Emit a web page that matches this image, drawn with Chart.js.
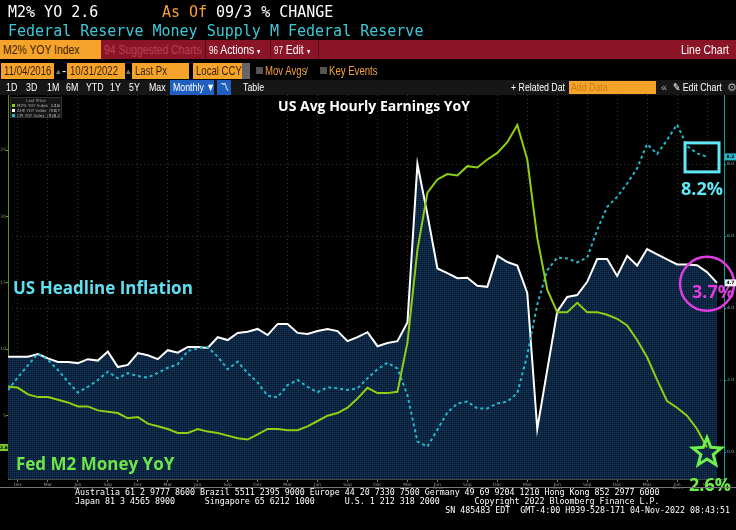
<!DOCTYPE html>
<html>
<head>
<meta charset="utf-8">
<script src="https://cdn.jsdelivr.net/npm/chart.js@4.4.0/dist/chart.umd.min.js"></script>
<style>
html, body { margin: 0; padding: 0; background: #000; }
#wrap { position: relative; width: 736px; height: 530px; background: #000; overflow: hidden;
  font-family: "Liberation Sans", Arial, sans-serif; }
#wrap canvas { position: absolute; left: 0; top: 0; }
.abs { position: absolute; white-space: pre; }
.mono { font-family: "DejaVu Sans Mono", monospace; font-size: 15px; line-height: 18px; }
.bar { position: absolute; left: 0; width: 736px; }
.tb { position: absolute; top: 0; font-size: 13px; line-height: 19px; color: #fff; white-space: pre; }
.box { position: absolute; top: 1px; height: 16px; line-height: 16px; background: #f6a32c; color: #3a2200;
  font-size: 12px; padding-left: 3px; box-sizing: border-box; white-space: pre; overflow: hidden; }
.chk { position: absolute; top: 5px; width: 7px; height: 7px; background: #555; }
.r5 { position: absolute; top: 0; font-size: 11px; line-height: 15px; color: #fff; white-space: pre; }
.n { display: inline-block; transform: scaleX(0.8); transform-origin: 0 50%; }
.foot { font-family: "DejaVu Sans Mono", monospace; font-size: 8.3px; line-height: 9px; color: #fff; }
</style>
</head>
<body>
<div id="wrap">
<canvas id="chart" width="736" height="530"></canvas>

<div class="abs mono" style="left:8px;top:3px;color:#fff">M2% YO 2.6</div>
<div class="abs mono" style="left:162px;top:3px;color:#f4a13a">As Of</div>
<div class="abs mono" style="left:216px;top:3px;color:#fff">09/3 % CHANGE</div>
<div class="abs mono" style="left:8px;top:22px;color:#3dc8d8">Federal Reserve Money Supply M Federal Reserve</div>

<div class="bar" style="top:40px;height:19px;background:#8b1526;">
  <div class="tb" style="left:0;width:101px;background:#f6a32c;color:#3a2200;padding-left:3px;box-sizing:border-box;"><span class="n">M2% YOY Index</span></div>
  <div class="tb" style="left:104px;color:#b5424f;"><span class="n">94 Suggested Charts</span></div>
  <div class="tb" style="left:205px;width:1px;height:19px;background:#5a0c18;"></div>
  <div class="tb" style="left:209px;"><span class="n"><span style="font-size:10px">96</span> Actions <span style="font-size:8px">▾</span></span></div>
  <div class="tb" style="left:270px;width:1px;height:19px;background:#5a0c18;"></div>
  <div class="tb" style="left:274px;"><span class="n"><span style="font-size:10px">97</span> Edit <span style="font-size:8px">▾</span></span></div>
  <div class="tb" style="left:318px;width:1px;height:19px;background:#5a0c18;"></div>
  <div class="tb" style="left:681px;"><span class="n">Line Chart</span></div>
</div>

<div class="bar" style="top:62px;height:18px;">
  <div class="box" style="left:1px;width:53px;"><span class="n">11/04/2016</span></div>
  <div class="tb" style="left:56px;top:0;line-height:18px;color:#777;font-size:9px">▴</div>
  <div class="tb" style="left:62px;line-height:18px;">-</div>
  <div class="box" style="left:67px;width:58px;"><span class="n">10/31/2022</span></div>
  <div class="tb" style="left:126px;top:0;line-height:18px;color:#777;font-size:9px">▴</div>
  <div class="box" style="left:132px;width:57px;"><span class="n">Last Px</span></div>
  <div class="box" style="left:193px;width:56px;"><span class="n">Local CCY</span></div>
  <div class="tb" style="left:242px;top:1px;width:8px;height:16px;background:#666;"></div>
  <div class="chk" style="left:256px;"></div>
  <div class="tb" style="left:265px;line-height:18px;color:#f4a13a;font-size:12px"><span class="n">Mov Avgs</span></div>
  <div class="tb" style="left:305px;line-height:18px;color:#999;font-size:11px">/</div>
  <div class="chk" style="left:320px;"></div>
  <div class="tb" style="left:329px;line-height:18px;color:#f4a13a;font-size:12px"><span class="n">Key Events</span></div>
</div>

<div class="bar" style="top:80px;height:15px;background:#161616;">
  <div class="r5" style="left:6px;"><span class="n">1D</span></div>
  <div class="r5" style="left:26px;"><span class="n">3D</span></div>
  <div class="r5" style="left:47px;"><span class="n">1M</span></div>
  <div class="r5" style="left:66px;"><span class="n">6M</span></div>
  <div class="r5" style="left:86px;"><span class="n">YTD</span></div>
  <div class="r5" style="left:110px;"><span class="n">1Y</span></div>
  <div class="r5" style="left:129px;"><span class="n">5Y</span></div>
  <div class="r5" style="left:149px;"><span class="n">Max</span></div>
  <div class="r5" style="left:170px;width:44px;height:15px;background:#1f5fbf;padding-left:3px;box-sizing:border-box;"><span class="n">Monthly ▼</span></div>
  <div class="r5" style="left:217px;width:14px;height:15px;background:#1f5fbf;text-align:center;font-size:9px;">〽</div>
  <div class="r5" style="left:243px;"><span class="n">Table</span></div>
  <div class="r5" style="left:511px;"><span class="n">+ Related Dat</span></div>
  <div class="r5" style="left:569px;top:1px;width:87px;height:13px;line-height:13px;background:#f6a32c;color:#c77d1a;padding-left:2px;box-sizing:border-box;"><span class="n">Add Data</span></div>
  <div class="r5" style="left:661px;color:#aaa;">«</div>
  <div class="r5" style="left:673px;"><span class="n">✎ Edit Chart</span></div>
  <div class="r5" style="left:727px;color:#aaa;">⚙</div>
</div>

<div class="abs" style="left:0;top:487px;width:736px;height:1px;background:#777;"></div>
<div class="abs foot" style="left:75px;top:488px;">Australia 61 2 9777 8600 Brazil 5511 2395 9000 Europe 44 20 7330 7500 Germany 49 69 9204 1210 Hong Kong 852 2977 6000</div>
<div class="abs foot" style="left:75px;top:497px;">Japan 81 3 4565 8900      Singapore 65 6212 1000      U.S. 1 212 318 2000       Copyright 2022 Bloomberg Finance L.P.</div>
<div class="abs foot" style="right:6px;top:506px;">SN 485483 EDT  GMT-4:00 H939-528-171 04-Nov-2022 08:43:51</div>
</div>

<script>
// monthly points, Nov 2016 .. Oct 2022
var months = [
  'Nov 2016','Dec 2016',
  'Jan 2017','Feb 2017','Mar 2017','Apr 2017','May 2017','Jun 2017','Jul 2017','Aug 2017','Sep 2017','Oct 2017','Nov 2017','Dec 2017',
  'Jan 2018','Feb 2018','Mar 2018','Apr 2018','May 2018','Jun 2018','Jul 2018','Aug 2018','Sep 2018','Oct 2018','Nov 2018','Dec 2018',
  'Jan 2019','Feb 2019','Mar 2019','Apr 2019','May 2019','Jun 2019','Jul 2019','Aug 2019','Sep 2019','Oct 2019','Nov 2019','Dec 2019',
  'Jan 2020','Feb 2020','Mar 2020','Apr 2020','May 2020','Jun 2020','Jul 2020','Aug 2020','Sep 2020','Oct 2020','Nov 2020','Dec 2020',
  'Jan 2021','Feb 2021','Mar 2021','Apr 2021','May 2021','Jun 2021','Jul 2021','Aug 2021','Sep 2021','Oct 2021','Nov 2021','Dec 2021',
  'Jan 2022','Feb 2022','Mar 2022','Apr 2022','May 2022','Jun 2022','Jul 2022','Aug 2022','Sep 2022','Oct 2022'
];

// M2% YOY Index (left axis)
var m2Yoy = [
  7.2, 7.1,
  6.6, 6.4, 6.4, 6.2, 6.0, 5.7, 5.7, 5.4, 5.3, 5.2, 4.8, 4.9,
  4.4, 4.2, 4.0, 3.7, 3.7, 4.0, 3.8, 3.7, 3.5, 3.3, 3.2, 3.6,
  4.0, 4.0, 3.9, 3.9, 4.2, 4.6, 5.0, 5.2, 5.6, 6.3, 7.1, 6.7,
  6.7, 6.8, 10.5, 17.5, 21.8, 22.8, 23.2, 23.1, 23.8, 23.7, 24.3, 24.8,
  25.6, 26.9, 24.3, 18.4, 14.5, 12.8, 12.8, 13.5, 12.8, 12.8, 12.6, 12.3,
  11.8, 10.7, 9.4, 7.7, 6.1, 5.6, 5.0, 4.0, 2.6, null
];

// AHE YOY Index (right axis)
var aheYoy = [
  2.65, 2.65,
  2.65, 2.72, 2.6, 2.5, 2.5, 2.47, 2.58, 2.54, 2.79, 2.36, 2.42, 2.75,
  2.69, 2.58, 2.83, 2.76, 2.92, 2.92, 2.89, 3.19, 3.11, 3.31, 3.34, 3.42,
  3.25, 3.56, 3.56, 3.31, 3.28, 3.36, 3.42, 3.36, 3.08, 3.19, 3.33, 2.94,
  3.03, 3.08, 3.6, 8.0, 6.6, 5.1, 4.97, 4.83, 4.84, 4.62, 4.59, 5.45,
  5.28, 5.18, 4.42, 0.64, 2.28, 3.9, 4.31, 4.36, 4.73, 5.36, 5.36, 4.89,
  5.45, 5.18, 5.64, 5.49, 5.35, 5.21, 5.21, 5.19, 5.0, 4.7
];

// CPI YOY Index (right axis)
var cpiYoy = [
  1.72, 2.08,
  2.41, 2.74, 2.56, 2.28, 1.95, 1.65, 1.81, 2.0, 2.23, 2.05, 2.19, 2.11,
  2.07, 2.2, 2.34, 2.44, 2.81, 2.88, 2.91, 2.65, 2.3, 2.51, 2.19, 1.93,
  1.56, 1.52, 1.86, 2.0, 1.81, 1.66, 1.8, 1.77, 1.72, 1.77, 2.05, 2.3,
  2.48, 2.32, 1.58, 0.29, 0.15, 0.62, 1.1, 1.35, 1.4, 1.21, 1.21, 1.35,
  1.4, 1.63, 2.7, 4.1, 5.05, 5.4, 5.38, 5.27, 5.4, 6.17, 6.81, 7.09,
  7.46, 7.88, 8.56, 8.28, 8.67, 9.1, 8.5, 8.3, 8.2, null
];

var tickMonths = ['Dec', 'Mar', 'Jun', 'Sep'];

Chart.defaults.font.family = '"DejaVu Sans", sans-serif';

function toPoints(arr) {
  return arr.map(function(v, i) { return { x: i, y: v }; });
}

function lastValue(arr) {
  for (var i = arr.length - 1; i >= 0; i--) if (arr[i] !== null) return { i: i, v: arr[i] };
  return null;
}

// dithered navy like the terminal's area fill
function dotPattern() {
  var c = document.createElement('canvas');
  c.width = 2; c.height = 2;
  var g = c.getContext('2d');
  g.fillStyle = '#0a1f38'; g.fillRect(0, 0, 2, 2);
  g.fillStyle = '#183a60'; g.fillRect(0, 0, 1, 1);
  return g.createPattern(c, 'repeat');
}

function drawStar(ctx, cx, cy, ro, ri) {
  ctx.beginPath();
  for (var k = 0; k < 10; k++) {
    var r = k % 2 === 0 ? ro : ri;
    var a = -Math.PI / 2 + k * Math.PI / 5;
    var px = cx + r * Math.cos(a), py = cy + r * Math.sin(a);
    if (k === 0) ctx.moveTo(px, py); else ctx.lineTo(px, py);
  }
  ctx.closePath();
  ctx.stroke();
}

var marks = {
  id: 'marks',
  afterDraw: function(chart) {
    var ctx = chart.ctx, xs = chart.scales.x, yL = chart.scales.yL, yR = chart.scales.yR;
    var area = chart.chartArea;
    var m2Last = lastValue(m2Yoy), aheLast = lastValue(aheYoy), cpiLast = lastValue(cpiYoy);
    ctx.save();

    // legend box
    ctx.fillStyle = '#161616';
    ctx.fillRect(area.left + 2, area.top + 2, 52, 21);
    ctx.strokeStyle = '#333';
    ctx.lineWidth = 1;
    ctx.strokeRect(area.left + 2.5, area.top + 2.5, 51, 20);
    ctx.font = '4px "DejaVu Sans"';
    ctx.textBaseline = 'middle';
    ctx.fillStyle = '#aaa';
    ctx.textAlign = 'center';
    ctx.fillText('Last Price', area.left + 28, area.top + 5.5);
    var rows = [
      ['M2% YOY Index  (L1)', m2Last.v, '#8fcf14'],
      ['AHE YOY Index  (R1)', aheLast.v, '#ffffff'],
      ['CPI YOY Index  (R2)', cpiLast.v, '#22b8cf']
    ];
    rows.forEach(function(r, k) {
      var yy = area.top + 10.5 + k * 5;
      ctx.fillStyle = r[2];
      ctx.fillRect(area.left + 4, yy - 1.5, 3, 3);
      ctx.fillStyle = '#aaa';
      ctx.textAlign = 'left';
      ctx.fillText(r[0], area.left + 9, yy);
      ctx.textAlign = 'right';
      ctx.fillText(r[1].toFixed(1), area.left + 52, yy);
    });

    // title
    ctx.font = 'bold 14px "Open Sans"';
    ctx.fillStyle = '#ffffff';
    ctx.textAlign = 'center';
    ctx.fillText('US Avg Hourly Earnings YoY', 374, area.top + 12);

    // side notes
    ctx.textAlign = 'left';
    ctx.font = 'bold 17px "Open Sans"';
    ctx.fillStyle = '#5fe0f0';
    ctx.fillText('US Headline Inflation', 13, 289);
    ctx.fillStyle = '#6ee64a';
    ctx.fillText('Fed M2 Money YoY', 16, 465);

    // box around the CPI tail
    var cx = xs.getPixelForValue(cpiLast.i), cy = yR.getPixelForValue(cpiLast.v);
    ctx.strokeStyle = '#5fe8f5';
    ctx.lineWidth = 3;
    ctx.strokeRect(cx - 22, cy - 14, 34, 29);
    ctx.font = 'bold 18px "Open Sans"';
    ctx.fillStyle = '#5fe8f5';
    ctx.textAlign = 'center';
    ctx.fillText('8.2%', cx - 5, cy + 33);

    // circle around the AHE end
    var wx = xs.getPixelForValue(aheLast.i), wy = yR.getPixelForValue(aheLast.v);
    ctx.strokeStyle = '#e03ce0';
    ctx.lineWidth = 2.5;
    ctx.beginPath();
    ctx.arc(wx - 10, wy + 1, 27, 0, Math.PI * 2);
    ctx.stroke();
    ctx.fillStyle = '#e03ce0';
    ctx.fillText('3.7%', wx - 4, wy + 10);

    // star on the M2 end
    var gx = xs.getPixelForValue(m2Last.i), gy = yL.getPixelForValue(m2Last.v);
    ctx.strokeStyle = '#6ef04a';
    ctx.lineWidth = 3;
    drawStar(ctx, gx, gy + 5, 15, 6.5);
    ctx.fillStyle = '#6ef04a';
    ctx.fillText('2.6%', gx + 3, gy + 38);

    // last value tags on the axes
    ctx.font = 'bold 4.5px "DejaVu Sans"';
    ctx.textAlign = 'center';
    var tags = [
      [area.right + 1, wy, '#f2f2f2', aheLast.v],
      [area.right + 1, cy, '#2ab7c9', cpiLast.v]
    ];
    tags.forEach(function(t) {
      ctx.fillStyle = t[2];
      ctx.fillRect(t[0], t[1] - 3.5, 11, 7);
      ctx.fillStyle = '#000';
      ctx.fillText(t[3].toFixed(1), t[0] + 5.5, t[1]);
    });
    ctx.fillStyle = '#7ecb2e';
    ctx.fillRect(0, gy - 3.5, area.left, 7);
    ctx.fillStyle = '#000';
    ctx.fillText(m2Last.v.toFixed(1), area.left / 2, gy);

    ctx.restore();
  }
};

var ctx = document.getElementById('chart').getContext('2d');
var chart = new Chart(ctx, {
  type: 'line',
  data: {
    datasets: [{
      label: 'AHE YOY Index',
      data: toPoints(aheYoy),
      yAxisID: 'yR',
      borderColor: '#ffffff',
      borderWidth: 2,
      backgroundColor: dotPattern(),
      fill: 'start',
      order: 3
    }, {
      label: 'CPI YOY Index',
      data: toPoints(cpiYoy),
      yAxisID: 'yR',
      borderColor: '#22b8cf',
      borderWidth: 2,
      borderDash: [3, 3],
      fill: false,
      order: 2
    }, {
      label: 'M2% YOY Index',
      data: toPoints(m2Yoy),
      yAxisID: 'yL',
      borderColor: '#8fcf14',
      borderWidth: 2,
      fill: false,
      order: 1
    }]
  },
  options: {
    responsive: false,
    animation: false,
    devicePixelRatio: 1,
    layout: { padding: { top: 95, left: 0, right: 0, bottom: 41 } },
    elements: { point: { radius: 0 }, line: { tension: 0 } },
    plugins: { legend: { display: false }, tooltip: { enabled: false } },
    scales: {
      x: {
        type: 'linear',
        min: 0,
        max: 71.7,
        afterFit: function(axis) { axis.height = 10; },
        afterBuildTicks: function(axis) {
          var t = [];
          months.forEach(function(m, i) {
            if (tickMonths.indexOf(m.split(' ')[0]) >= 0) t.push({ value: i });
          });
          axis.ticks = t;
        },
        ticks: {
          autoSkip: false,
          maxRotation: 0,
          padding: 0,
          color: '#9a9a9a',
          font: { size: 4.5 },
          callback: function(v) {
            var p = months[v].split(' ');
            return p[0] === 'Jun' ? [p[0], p[1]] : p[0];
          }
        },
        grid: { color: '#333', tickColor: '#777', tickLength: 3 },
        border: { color: '#444', dash: [1, 3] }
      },
      yL: {
        position: 'left',
        min: 0.23,
        max: 29.16,
        afterFit: function(axis) { axis.width = 8; },
        ticks: { stepSize: 5, includeBounds: false, padding: 0, color: '#8a9a70', font: { size: 4.5 } },
        grid: { drawOnChartArea: false, tickLength: 2, color: '#6a9a20' },
        border: { color: '#5f8f18' }
      },
      yR: {
        position: 'right',
        min: -0.75,
        max: 9.92,
        afterFit: function(axis) { axis.width = 12; },
        ticks: {
          stepSize: 2, includeBounds: false, padding: 1, color: '#8fb0b8', font: { size: 4.5 },
          callback: function(v) { return v.toFixed(1); }
        },
        grid: { color: '#353535', tickLength: 2, tickColor: '#1e9aa6' },
        border: { color: '#1e9aa6', dash: [1, 3] }
      }
    }
  },
  plugins: [marks]
});
</script>
</body>
</html>
